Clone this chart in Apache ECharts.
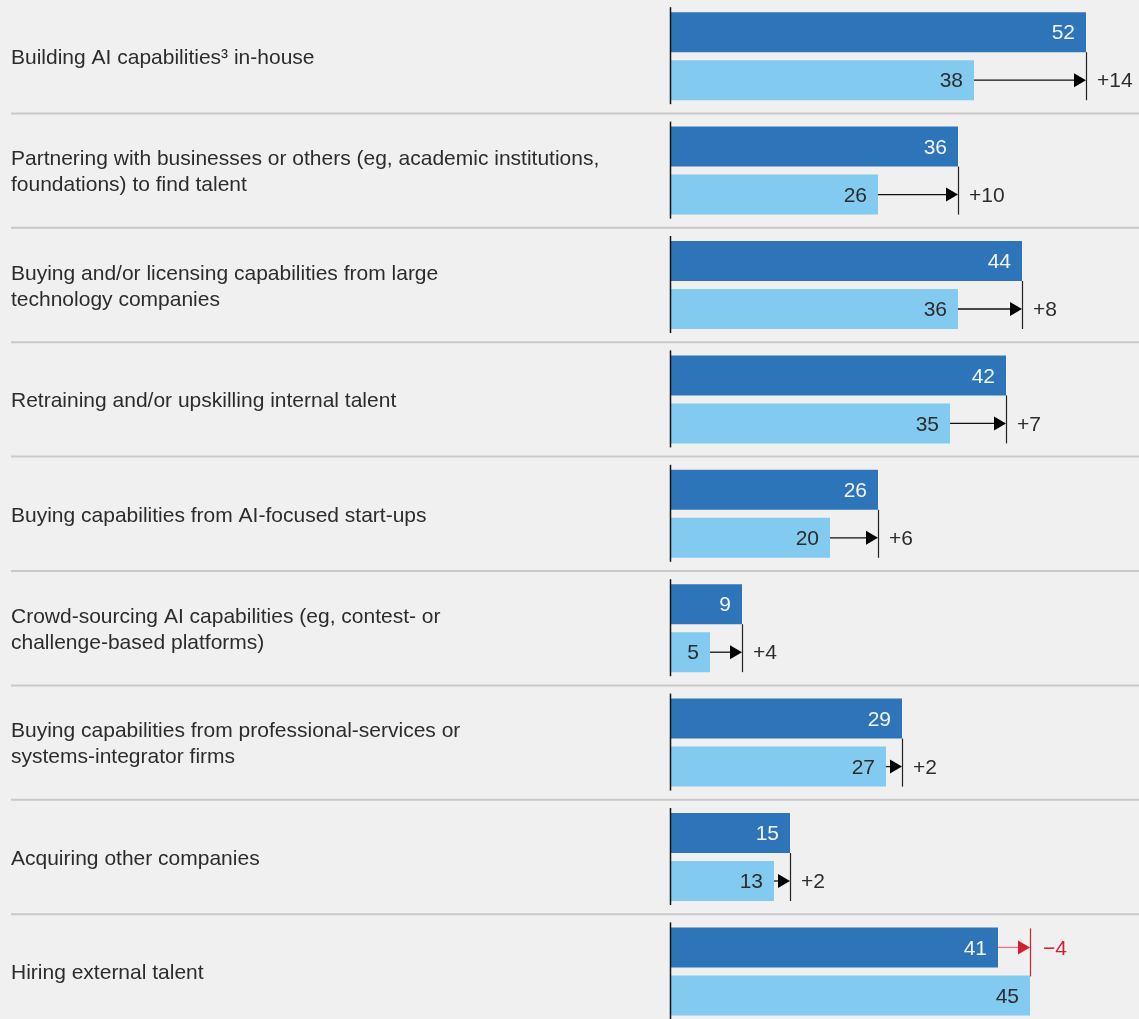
<!DOCTYPE html>
<html>
<head>
<meta charset="utf-8">
<script src="https://cdn.jsdelivr.net/npm/echarts@6/dist/echarts.min.js"></script>
<style>
html,body{margin:0;padding:0;background:#f0f0f0;overflow:hidden;}
#chart{width:1139px;height:1031px;margin-top:-1px;}
</style>
</head>
<body>
<div id="chart"></div>
<script>
const categories = [
  'Building AI capabilities\u00B3 in-house',
  'Partnering with businesses or others (eg, academic institutions,\nfoundations) to find talent',
  'Buying and/or licensing capabilities from large\ntechnology companies',
  'Retraining and/or upskilling internal talent',
  'Buying capabilities from AI-focused start-ups',
  'Crowd-sourcing AI capabilities (eg, contest- or\nchallenge-based platforms)',
  'Buying capabilities from professional-services or\nsystems-integrator firms',
  'Acquiring other companies',
  'Hiring external talent'
];
const currentValues = [52, 36, 44, 42, 26, 9, 29, 15, 41];
const previousValues = [38, 26, 36, 35, 20, 5, 27, 13, 45];
const changeLabels = ['+14', '+10', '+8', '+7', '+6', '+4', '+2', '+2', '\u22124'];

const FONT = '"Liberation Sans", Arial, Helvetica, sans-serif';
const DARK = '#2d74b9';
const LIGHT = '#82caf0';
const RED = '#d2202f';
const INK = '#2c2c2c';
const TY = 1.5; // text baseline nudge

const chart = echarts.init(document.getElementById('chart'));

function renderRow(params, api) {
  const i = api.value(0);
  const cur = api.value(1);
  const prev = api.value(2);
  const base = api.coord([0, i]);
  const x0 = base[0], yc = base[1];
  const band = api.size([0, 1])[1];
  const xd = api.coord([cur, i])[0];
  const xl = api.coord([prev, i])[0];
  const children = [];
  if (i > 0) {
    const ys = yc - band / 2;
    children.push({type: 'line', shape: {x1: 11, y1: ys, x2: api.getWidth(), y2: ys},
      style: {stroke: '#c9c9c9', lineWidth: 2}});
  }
  children.push({type: 'rect', shape: {x: x0, y: yc - 44, width: xd - x0, height: 40}, style: {fill: DARK}});
  children.push({type: 'rect', shape: {x: x0, y: yc + 4, width: xl - x0, height: 40}, style: {fill: LIGHT}});
  children.push({type: 'line', shape: {x1: x0 + 0.5, y1: yc - 49, x2: x0 + 0.5, y2: yc + 48},
    style: {stroke: '#111', lineWidth: 1.5}});
  children.push({type: 'text', style: {text: String(cur), x: xd - 11, y: yc - 24 + TY, align: 'right',
    verticalAlign: 'middle', fill: '#f2f6fa', font: '21px ' + FONT}});
  children.push({type: 'text', style: {text: String(prev), x: xl - 11, y: yc + 24 + TY, align: 'right',
    verticalAlign: 'middle', fill: INK, font: '21px ' + FONT}});
  const label = changeLabels[i];
  if (cur >= prev) {
    const ya = yc + 24;
    children.push({type: 'line', shape: {x1: xd + 0.5, y1: yc - 4, x2: xd + 0.5, y2: yc + 44},
      style: {stroke: '#222', lineWidth: 1.2}});
    children.push({type: 'line', shape: {x1: xl, y1: ya, x2: xd - 10, y2: ya},
      style: {stroke: '#111', lineWidth: 1.3}});
    children.push({type: 'polygon', shape: {points: [[xd - 12, ya - 7], [xd, ya], [xd - 12, ya + 7]]},
      style: {fill: '#000'}});
    children.push({type: 'text', style: {text: label, x: xd + 11, y: ya + TY, align: 'left',
      verticalAlign: 'middle', fill: INK, font: '21px ' + FONT}});
  } else {
    const ya = yc - 24;
    children.push({type: 'line', shape: {x1: xl + 0.5, y1: yc - 43, x2: xl + 0.5, y2: yc + 5},
      style: {stroke: RED, lineWidth: 1.2}});
    children.push({type: 'line', shape: {x1: xd, y1: ya, x2: xl - 10, y2: ya},
      style: {stroke: '#e07a85', lineWidth: 1.3}});
    children.push({type: 'polygon', shape: {points: [[xl - 12, ya - 7], [xl, ya], [xl - 12, ya + 7]]},
      style: {fill: RED}});
    children.push({type: 'text', style: {text: label, x: xl + 13, y: ya + TY, align: 'left',
      verticalAlign: 'middle', fill: RED, font: '21px ' + FONT}});
  }
  return {type: 'group', children: children};
}

chart.setOption({
  backgroundColor: '#f0f0f0',
  animation: false,
  textStyle: {fontFamily: FONT},
  grid: {left: 670, top: 0, width: 464, height: 1029.6, containLabel: false},
  xAxis: {type: 'value', min: 0, max: 58, show: false},
  yAxis: {
    type: 'category', inverse: true, data: categories,
    axisLine: {show: false}, axisTick: {show: false}, splitLine: {show: false},
    axisLabel: {
      interval: 0, align: 'left', margin: 659, fontSize: 21, lineHeight: 26,
      color: INK, fontFamily: FONT,
      formatter: v => v.split('\n').map(s => '{t|' + s + '}').join('\n'),
      rich: {t: {fontSize: 21, lineHeight: 26, padding: [4, 0, 0, 0], color: INK, fontFamily: FONT}}
    }
  },
  series: [{
    type: 'custom',
    renderItem: renderRow,
    clip: false,
    data: categories.map((c, i) => [i, currentValues[i], previousValues[i]]),
    encode: {x: [1, 2], y: 0}
  }]
});
</script>
</body>
</html>
